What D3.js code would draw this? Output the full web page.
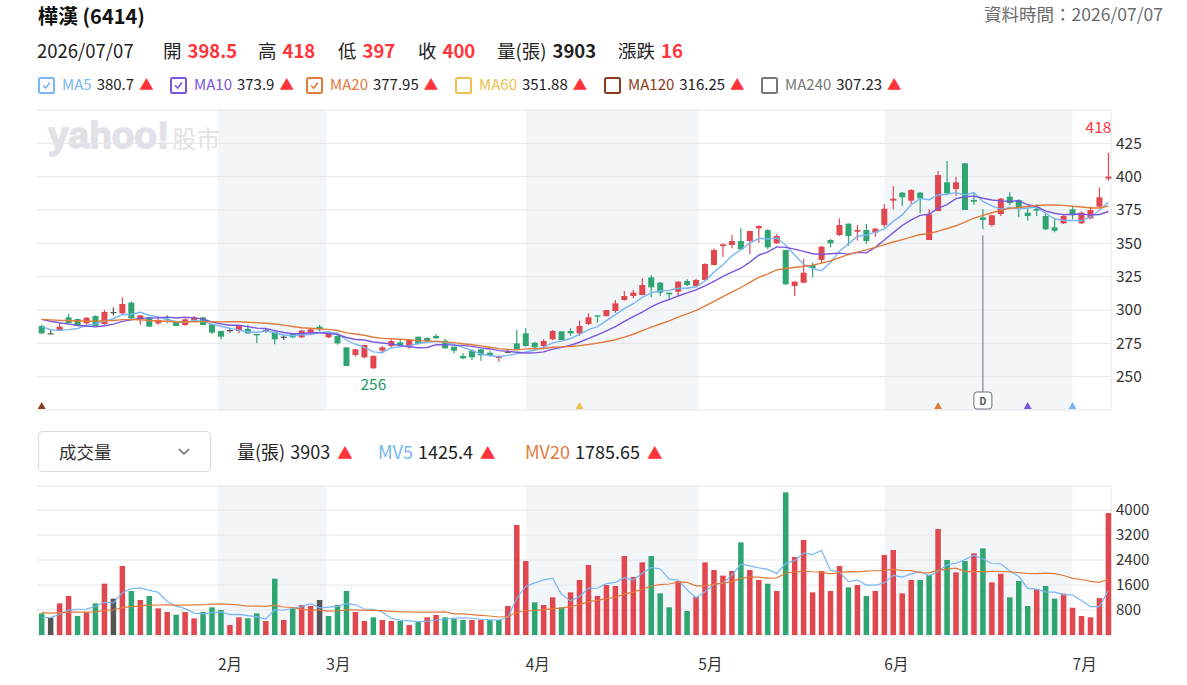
<!DOCTYPE html>
<html>
<head>
<meta charset="utf-8">
<script src="https://cdn.jsdelivr.net/npm/d3@7"></script>
<style>
  body { margin: 0; background: #fff; font-family: "Noto Sans CJK TC", "Noto Sans", sans-serif; }
</style>
</head>
<body>
<div id="chart"></div>
<script>
/* 樺漢 (6414) daily K chart */

const stockName = "樺漢 (6414)";
const quoteDate = "2026/07/07";
const quoteLabels = ["開", "高", "低", "收", "量(張)", "漲跌"];
const quoteValues = ["398.5", "418", "397", "400", "3903", "16"];

const dates = [
  "01/05","01/06","01/07","01/08","01/09","01/12","01/13","01/14","01/15","01/16",
  "01/19","01/20","01/21","01/22","01/23","01/26","01/27","01/28","01/29","01/30",
  "02/02","02/03","02/04","02/05","02/06","02/09","02/10","02/11","02/23","02/24","02/25","02/26",
  "03/02","03/03","03/04","03/05","03/06","03/09","03/10","03/11","03/12","03/13",
  "03/16","03/17","03/18","03/19","03/20","03/23","03/24","03/25","03/26","03/27","03/30","03/31",
  "04/01","04/02","04/07","04/08","04/09","04/10","04/13","04/14","04/15","04/16",
  "04/17","04/20","04/21","04/22","04/23","04/24","04/27","04/28","04/29","04/30",
  "05/04","05/05","05/06","05/07","05/08","05/11","05/12","05/13","05/14","05/15",
  "05/18","05/19","05/20","05/21","05/22","05/25","05/26","05/27","05/28","05/29",
  "06/01","06/02","06/03","06/04","06/05","06/08","06/09","06/10","06/11","06/12",
  "06/15","06/16","06/17","06/18","06/22","06/23","06/24","06/25","06/26","06/29","06/30",
  "07/01","07/02","07/03","07/06","07/07"
];

const open = [288,282.5,284.25,294.5,293.25,290,295.5,289.5,298.5,297.5,
  305.5,293,294.5,290,293.5,291.75,288.75,292,294.5,289.25,
  284.25,285,284.25,285.75,282,285,283.75,280,282,279.5,
  282.5,287.5,279.5,280.5,272,266.25,264.5,256.25,269.5,273,
  275.75,272,280,279,280.5,277,272.5,265.5,269.5,270.5,
  268,264,268.75,275,282.5,275.5,273,278,284,284.25,
  282.5,289.5,296,295.5,299.25,307.5,310.5,311.25,324.5,320.5,
  313,313.75,321.75,318,322.5,333.75,348,348.75,351.75,351.75,
  361.25,360,350,345,318,320.5,333.75,337.5,352.5,356.25,
  364.75,358.75,360,358,363.75,382,388,382,388,352.5,
  374.25,395.75,390.75,410,382.5,369.5,363.75,372,385,382.5,
  373,376,370.5,362,365,375.5,365,368.75,377.5,398.5];

const high = [289,285,290,297,293.5,294.5,296,300,302,309.5,
  306.5,296,295,294.5,296,292,293.5,295.5,295,289.5,
  284.5,286.5,288.5,289,282,286,284,281,282.5,285,
  286.25,288.75,284,282.5,272,271,274,266,273,278,
  278,278,280,279.5,282,278.5,272.5,267.5,270.5,271,
  269.5,266,270,285,286.25,276,278,285,284,286.25,
  292,297.5,296,300,307.5,314.25,315,323.75,326.25,321,
  313,321.5,323,323.5,335,346.25,350,356.25,361.25,359.5,
  363.5,360.5,357,345,321.5,338.25,335.5,348,353.25,368.75,
  365,363.75,364.5,361.5,379.5,393,388.5,390.5,388.5,375.5,
  404.25,411.75,400,410,387.5,375.75,371.5,384,388.25,383,
  376.25,379.25,372,368.75,371,377.5,374,377.5,392,418];

const low = [282,282.5,284,290,288,289,288,289,296,296.5,
  293,289,287.5,289,290,288,288,292,288.5,282,
  278,283,282.5,282,275,283,274.25,277.5,279,279,
  282,284,279,274,258,265,263.75,256,267.5,272,
  272.5,271,274,276,278.5,271,267.5,263,262.5,262,
  265,261.25,267.5,270,272.5,271.5,270.5,277.5,277.5,280.5,
  280.5,288.75,290.5,295,298,307,308.75,311,309.5,310.5,
  307.5,311.25,318,317,322,333.5,340,346.25,345,342,
  350.5,345.5,349.5,319,310.5,320,324.5,335,347,355.5,
  348,352,349.5,355,362,375.5,378,379.5,372.5,352.5,
  374,386,385.5,375,378.75,360.5,362.5,370.5,378.75,369.5,
  367,370.5,360,358.25,364.5,368,364.5,368,377,397];

const close = [282.5,282.5,287.5,290,288,294.25,288,298.5,298.5,304.5,
  293.75,296,287.5,292.5,293,288,293,294.5,288.75,283,
  280,285,288,282.5,281,285,278,280,279.5,284.5,
  285.5,285.5,282.5,275,258,270.5,273.75,265.5,272,276.75,
  273.75,277.5,274.5,276.75,278.75,271.25,269.5,263.75,264.5,266,
  265.5,265,268.75,270.5,273,272,276.75,284.25,277.5,282.5,
  288,294.5,295,300,305,310.5,313,318.75,317,313,
  311.75,321.25,318.75,322.5,334.5,345,349.25,351.75,345.5,359.25,
  363,347,355.5,319.25,321.25,328,331.25,347.5,350,363.75,
  355.5,360,351.75,361,376,383.5,384.5,390,383.75,371.75,
  401.25,387.5,395.75,375,381.25,367.5,371,383.5,380.25,377,
  370.5,374.5,360.5,359.5,370.5,371,373,375,384.5,400];

const volume = [693,555,1013,1248,608,725,1013,1643,1163,2208,
  1408,1120,1248,853,736,651,736,533,736,885,
  800,320,565,533,693,448,1803,480,853,960,
  928,1120,608,960,1408,736,448,565,480,448,
  448,320,427,565,640,565,512,480,480,480,
  480,480,928,3520,2368,1045,960,1205,885,1365,
  1760,2240,1248,1600,1568,2528,1856,2325,2528,1333,
  885,1728,768,1227,2325,2080,1899,2048,2965,2080,
  1760,1643,1408,4565,2496,3040,1365,2048,1408,2208,
  1525,1600,1248,1408,2560,2720,1333,1760,1760,1920,
  3392,2400,2005,2368,2613,2773,1685,1963,1205,1728,
  928,1472,1568,1163,1323,871,608,565,1180,3903];

// closes / volumes before 01/05, only used to start the averages
const prevCloses = [291,294,292,295,293,292,294,293,292,294,297,299,300,298,298.5,294,290,287,284];
const prevVolumes = [820,700,900,650,760,880,720,690,810,750,640,830,770,700,880,560,480,590,477];

const maNames = ["MA5", "MA10", "MA20", "MA60", "MA120", "MA240"];
const maPeriods = [5, 10, 20, 60, 120, 240];
const maValues = ["380.7", "373.9", "377.95", "351.88", "316.25", "307.23"];
const maChecked = [true, true, true, false, false, false];
const maColors = ["#78b6f4", "#7a55de", "#e27b3b", "#efc04a", "#8c3b1f", "#777777"];

const mvNames = ["MV5", "MV20"];
const mvPeriods = [5, 20];
const mvValues = ["1425.4", "1785.65"];

const priceTicks = [250, 275, 300, 325, 350, 375, 400, 425];
const volTicks = [800, 1600, 2400, 3200, 4000];
const monthLabels = ["2月", "3月", "4月", "5月", "6月", "7月"];
const shadedMonths = [2, 4, 6];
const dividendDate = "06/16";

const upColor = "#e0474f", downColor = "#2fa572", flatColor = "#555",
      quoteRed = "#ff333a", grid = "#e4e6ea", band = "#f3f6f9";

const width = 1187, height = 685;
const plot = ({ left: 37, right: 1111, top: 110, bottom: 410, vTop: 486, vBottom: 635 });

const svg = d3.select("#chart").append("svg")
  .attr("width", width).attr("height", height)
  .style("display", "block");

const n = dates.length;
const parse = d3.timeParse("%Y/%m/%d");
const days = dates.map(d => parse("2026/" + d));

const x = d3.scaleLinear().domain([0, n - 1]).range([41.7, 1108.4]);
const y = d3.scaleLinear().domain([225, 450]).range([plot.bottom, plot.top]);
const yv = d3.scaleLinear().domain([0, 4768]).range([plot.vBottom, plot.vTop]);

// x of a calendar date, interpolated between trading days
function dateX(t) {
  const k = days.findIndex(d => d >= t);
  if (k <= 0) return x(Math.max(k, 0));
  const f = (t - days[k - 1]) / (days[k] - days[k - 1]);
  return x(k - 1 + f);
}
const monthX = m => dateX(new Date(2026, m - 1, 1));

// ---------- header ----------
svg.append("text").attr("x", 38).attr("y", 24)
  .attr("font-size", 20).attr("font-weight", "bold").attr("fill", "#111")
  .text(stockName);

svg.append("text").attr("x", 1163).attr("y", 21).attr("text-anchor", "end")
  .attr("font-size", 17.5).attr("fill", "#6b6b6b")
  .text("資料時間：" + quoteDate);

const q = svg.append("text").attr("y", 57.5).attr("font-size", 18.5).attr("fill", "#222");
q.append("tspan").attr("x", 37).text(quoteDate);
const quoteX = [163, 258, 338, 418, 497, 618];
quoteLabels.forEach((lab, i) => {
  q.append("tspan").attr("x", quoteX[i]).text(lab);
  q.append("tspan").attr("dx", 6).attr("font-weight", "bold")
    .attr("fill", lab === "量(張)" ? "#222" : quoteRed).text(quoteValues[i]);
});

// MA legend
const legX = [38, 170, 306, 455, 604, 761];
maNames.forEach((name, i) => {
  const g = svg.append("g").attr("transform", `translate(${legX[i]},77)`);
  g.append("rect").attr("x", 1).attr("y", 1).attr("width", 15).attr("height", 15)
    .attr("rx", 1.5).attr("fill", "#fff").attr("stroke", maColors[i]).attr("stroke-width", 2);
  if (maChecked[i]) {
    g.append("path").attr("d", "M5,8.5 L7.7,11 L12,5.5")
      .attr("fill", "none").attr("stroke", maColors[i]).attr("stroke-width", 1.6);
  }
  const t = g.append("text").attr("x", 24).attr("y", 12.5).attr("font-size", 15).attr("fill", "#222");
  t.append("tspan").attr("fill", maColors[i]).text(name);
  t.append("tspan").attr("dx", 5).text(maValues[i]);
  t.append("tspan").attr("dx", 5).attr("fill", quoteRed).attr("font-size", 14.5).text("▲");
});

// ---------- panels background ----------
shadedMonths.forEach(m => {
  const x0 = monthX(m), x1 = monthX(m + 1);
  svg.append("rect").attr("x", x0).attr("y", plot.top).attr("width", x1 - x0)
    .attr("height", plot.bottom - plot.top).attr("fill", band);
  svg.append("rect").attr("x", x0).attr("y", plot.vTop).attr("width", x1 - x0)
    .attr("height", plot.vBottom - plot.vTop).attr("fill", band);
});

// watermark
const wm = svg.append("text").attr("x", 48).attr("y", 148).attr("fill", "#e1e2e7");
wm.append("tspan").attr("font-family", "'Liberation Sans', Arial, sans-serif")
  .attr("font-size", 37).attr("font-weight", 900)
  .attr("stroke", "#e1e2e7").attr("stroke-width", 1.6).text("yahoo!");
wm.append("tspan").attr("dx", 3).attr("font-size", 24).text("股市");

// price grid
svg.append("g").selectAll("line").data(priceTicks).join("line")
  .attr("x1", plot.left).attr("x2", plot.right)
  .attr("y1", d => y(d)).attr("y2", d => y(d))
  .attr("stroke", grid);
svg.append("g").selectAll("line").data([plot.top, plot.bottom]).join("line")
  .attr("x1", plot.left).attr("x2", plot.right).attr("y1", d => d).attr("y2", d => d)
  .attr("stroke", grid);
svg.append("line").attr("x1", plot.right).attr("x2", plot.right)
  .attr("y1", plot.top).attr("y2", plot.bottom).attr("stroke", grid);

svg.append("g").selectAll("text").data(priceTicks).join("text")
  .attr("x", 1116).attr("y", d => y(d)).attr("dy", "0.35em")
  .attr("font-size", 15.5).attr("fill", "#333").text(d => d);

// volume grid
svg.append("g").selectAll("line").data(volTicks.concat([0])).join("line")
  .attr("x1", plot.left).attr("x2", plot.right)
  .attr("y1", d => yv(d)).attr("y2", d => yv(d))
  .attr("stroke", grid);
svg.append("line").attr("x1", plot.left).attr("x2", plot.right)
  .attr("y1", plot.vTop).attr("y2", plot.vTop).attr("stroke", grid);
svg.append("line").attr("x1", plot.right).attr("x2", plot.right)
  .attr("y1", plot.vTop).attr("y2", plot.vBottom).attr("stroke", grid);

svg.append("g").selectAll("text").data(volTicks).join("text")
  .attr("x", 1116).attr("y", d => yv(d)).attr("dy", "0.35em")
  .attr("font-size", 15).attr("fill", "#333").text(d => d);

// month labels
svg.append("g").selectAll("text").data(monthLabels).join("text")
  .attr("x", (d, i) => monthX(i + 2)).attr("y", 669.5)
  .attr("font-size", 15.5).attr("fill", "#333").text(d => d);

// ---------- moving averages ----------
function movingAvg(prev, vals, period) {
  const all = prev.concat(vals), off = prev.length;
  return d3.range(n).map(i => d3.mean(all.slice(off + i - period + 1, off + i + 1)));
}
const line = d3.line().x((d, i) => x(i));

// ---------- candles ----------
const candleColor = i => close[i] > open[i] ? upColor : close[i] < open[i] ? downColor : flatColor;
const dayColor = i => {
  const pc = i === 0 ? prevCloses[prevCloses.length - 1] : close[i - 1];
  return close[i] > pc ? upColor : close[i] < pc ? downColor : flatColor;
};

const candles = svg.append("g").selectAll("g").data(d3.range(n)).join("g");
candles.append("line")
  .attr("x1", i => x(i)).attr("x2", i => x(i))
  .attr("y1", i => y(high[i])).attr("y2", i => y(low[i]))
  .attr("stroke", candleColor).attr("stroke-width", 1.2);
candles.append("rect")
  .attr("x", i => x(i) - 3).attr("width", 6)
  .attr("y", i => y(Math.max(open[i], close[i])))
  .attr("height", i => Math.max(1.2, Math.abs(y(open[i]) - y(close[i]))))
  .attr("fill", candleColor);

[0, 1, 2].forEach(k => {
  svg.append("path")
    .datum(movingAvg(prevCloses, close, maPeriods[k]))
    .attr("d", line.y(d => y(d)))
    .attr("fill", "none").attr("stroke", maColors[k]).attr("stroke-width", 1.4);
});

// markers where each MA window starts
maPeriods.forEach((p, k) => {
  if (p > n) return;
  const cx = x(n - p);
  svg.append("path")
    .attr("d", `M${cx - 4},${plot.bottom - 1} L${cx + 4},${plot.bottom - 1} L${cx},${plot.bottom - 8} Z`)
    .attr("fill", maColors[k]);
});

// high / low labels
const iMax = d3.maxIndex(high), iMin = d3.minIndex(low);
svg.append("text").attr("x", x(iMax) + 3).attr("y", y(high[iMax]) - 20)
  .attr("text-anchor", "end").attr("font-size", 15.5).attr("fill", quoteRed).text(high[iMax]);
svg.append("text").attr("x", x(iMin)).attr("y", y(low[iMin]) + 21)
  .attr("text-anchor", "middle").attr("font-size", 15.5).attr("fill", "#1f9a62").text(low[iMin]);

// dividend marker
const iDiv = dates.indexOf(dividendDate);
svg.append("line").attr("x1", x(iDiv)).attr("x2", x(iDiv))
  .attr("y1", y(low[iDiv]) + 6).attr("y2", 392)
  .attr("stroke", "#6d7178").attr("stroke-width", 1);
svg.append("rect").attr("x", x(iDiv) - 9).attr("y", 392).attr("width", 18).attr("height", 17)
  .attr("rx", 3).attr("fill", "#fff").attr("stroke", "#6d7178");
svg.append("text").attr("x", x(iDiv)).attr("y", 404.5).attr("text-anchor", "middle")
  .attr("font-size", 10).attr("font-weight", "bold").attr("fill", "#555").text("D");

// ---------- volume ----------
const vlegend = svg.append("g");
vlegend.append("rect").attr("x", 38.5).attr("y", 431.5).attr("width", 172).attr("height", 40)
  .attr("rx", 4).attr("fill", "#fff").attr("stroke", "#d8dadd");
vlegend.append("text").attr("x", 59).attr("y", 458.5).attr("font-size", 17.5).attr("fill", "#333").text("成交量");
vlegend.append("path").attr("d", "M179,449 L184,454 L189,449")
  .attr("fill", "none").attr("stroke", "#666").attr("stroke-width", 1.5);

const vt = svg.append("text").attr("y", 458.5).attr("font-size", 18).attr("fill", "#222");
vt.append("tspan").attr("x", 237).text("量(張)");
vt.append("tspan").attr("dx", 5).text(quoteValues[4]);
vt.append("tspan").attr("dx", 7).attr("fill", quoteRed).attr("font-size", 15.5).text("▲");
const mvX = [378, 525], mvColors = [maColors[0], maColors[2]];
mvNames.forEach((nm, k) => {
  vt.append("tspan").attr("x", mvX[k]).attr("fill", mvColors[k]).text(nm);
  vt.append("tspan").attr("dx", 5).text(mvValues[k]);
  vt.append("tspan").attr("dx", 7).attr("fill", quoteRed).attr("font-size", 15.5).text("▲");
});

svg.append("g").selectAll("rect").data(d3.range(n)).join("rect")
  .attr("x", i => x(i) - 2.75).attr("width", 5.5)
  .attr("y", i => yv(volume[i]))
  .attr("height", i => yv(0) - yv(volume[i]))
  .attr("fill", dayColor);

mvPeriods.forEach((p, k) => {
  svg.append("path")
    .datum(movingAvg(prevVolumes, volume, p))
    .attr("d", line.y(d => yv(d)))
    .attr("fill", "none").attr("stroke", mvColors[k]).attr("stroke-width", 1.2);
});
</script>
</body>
</html>
